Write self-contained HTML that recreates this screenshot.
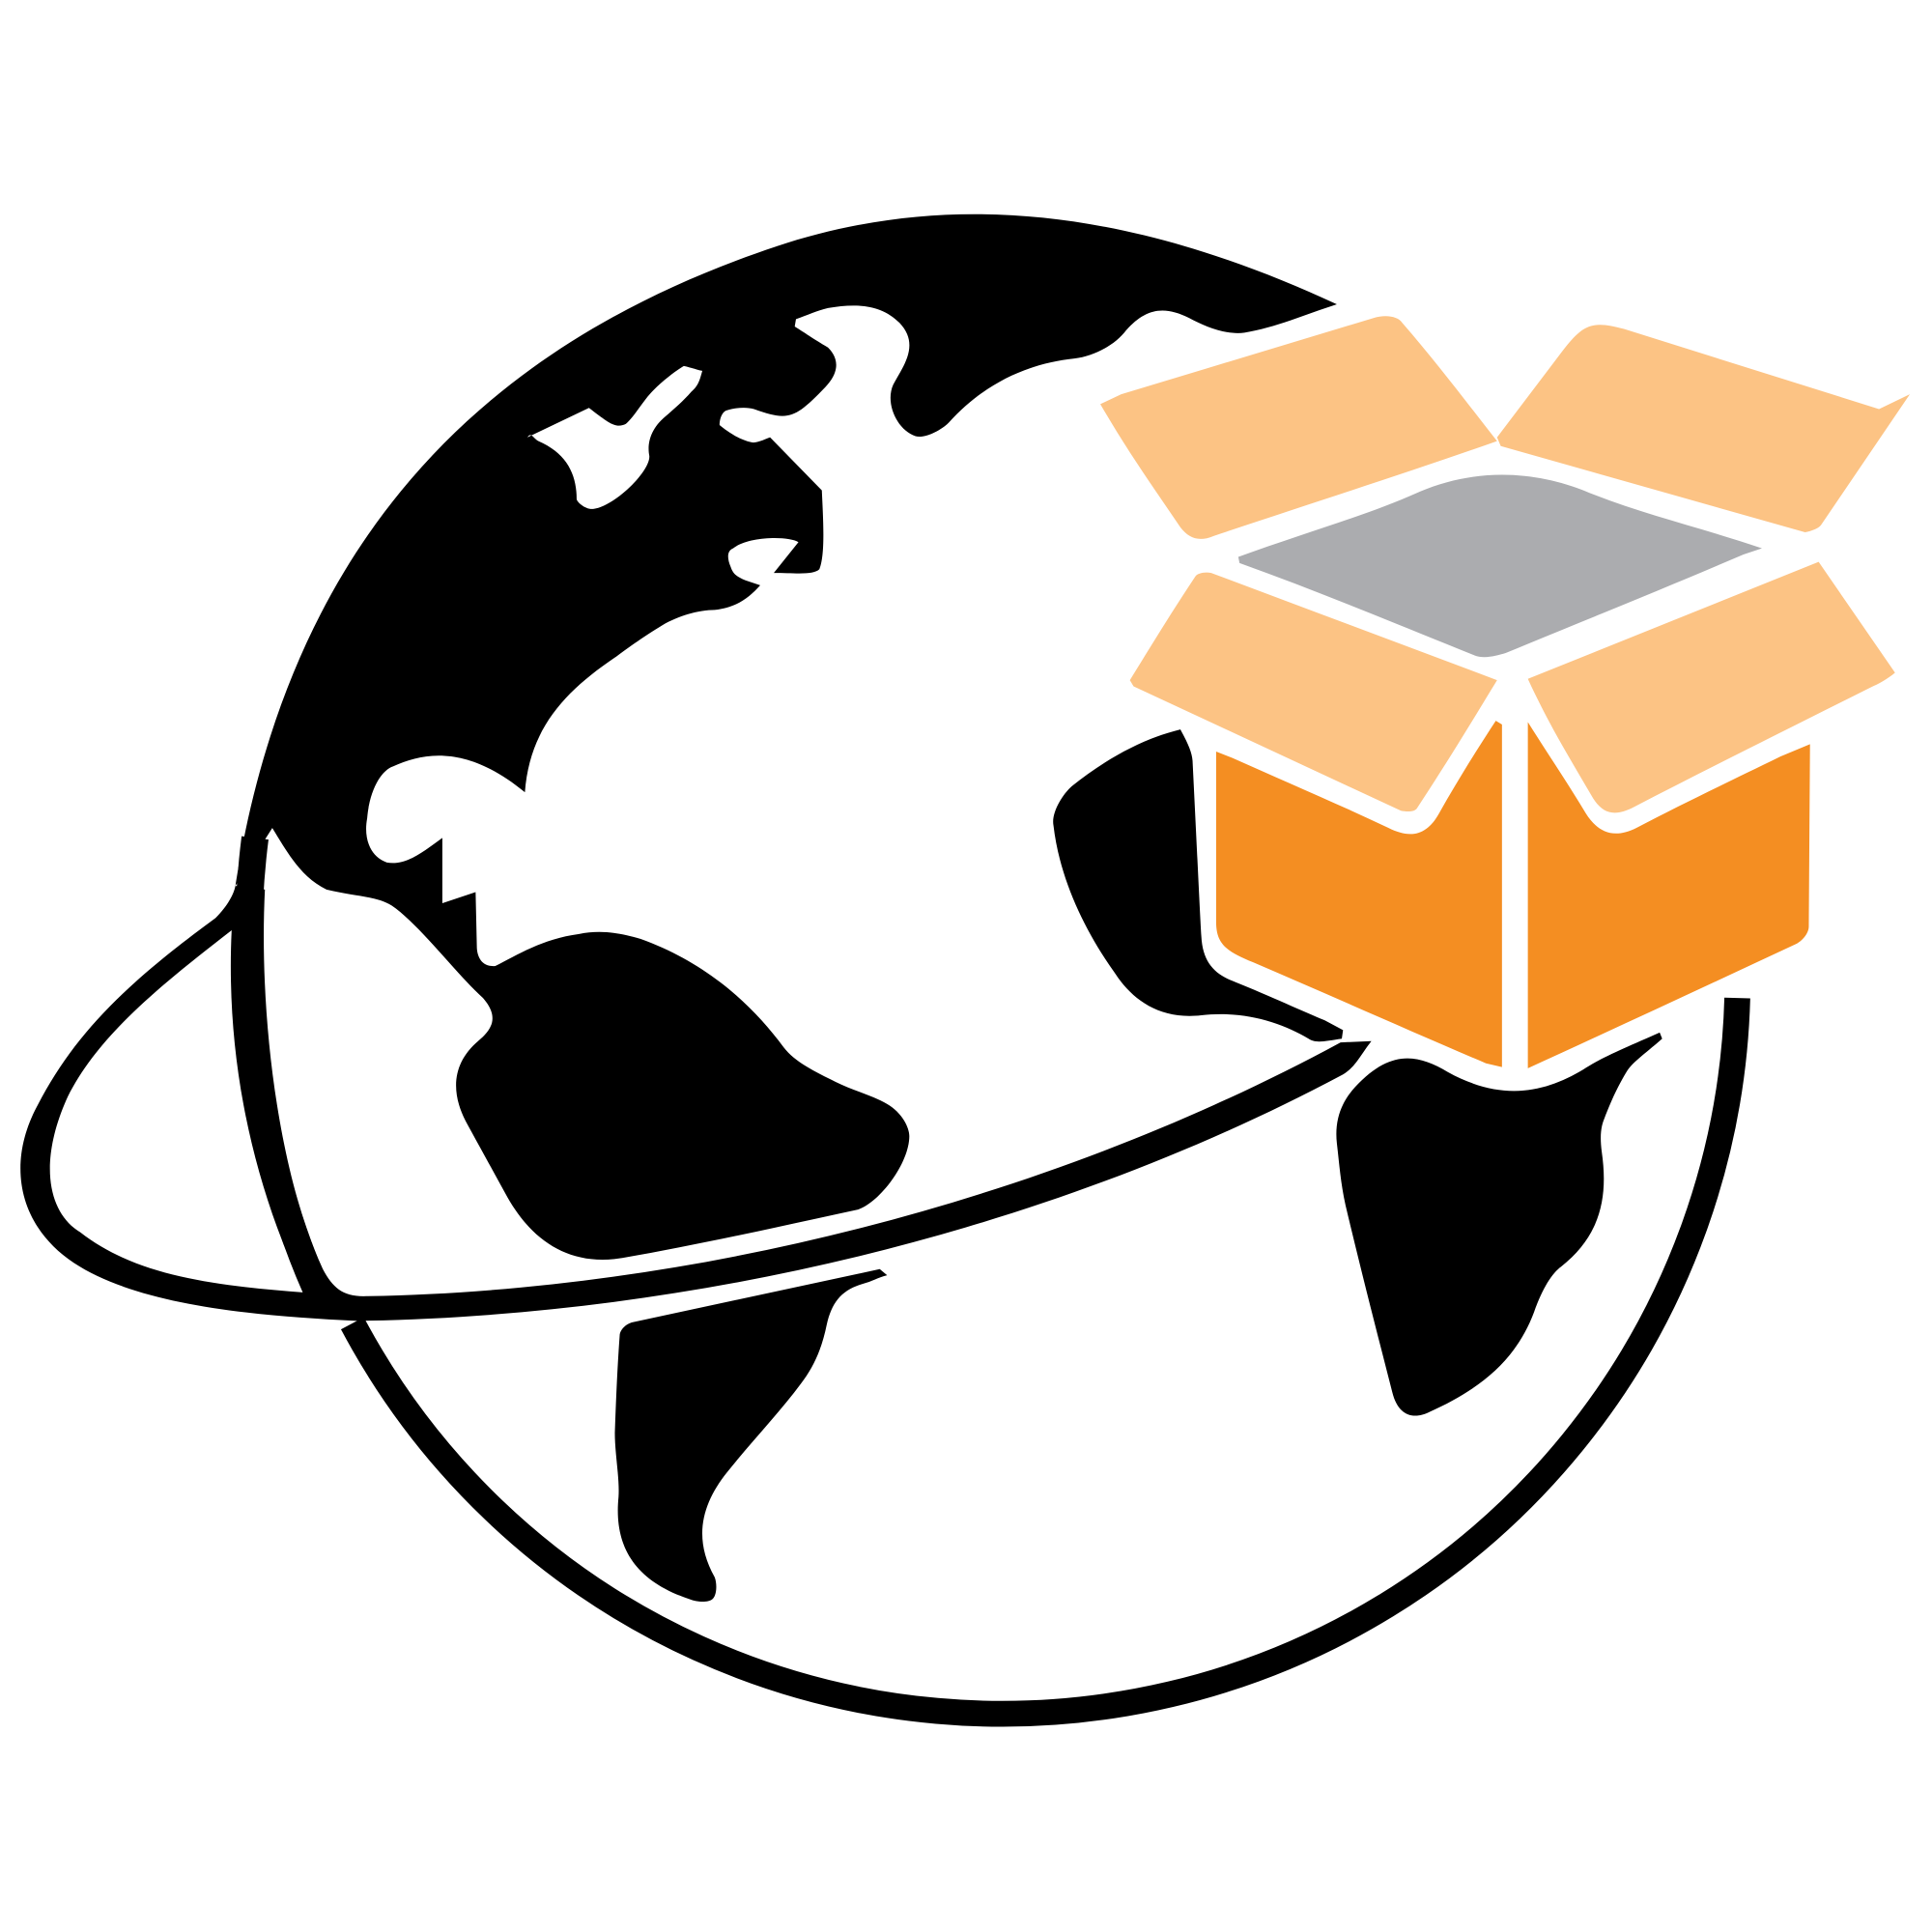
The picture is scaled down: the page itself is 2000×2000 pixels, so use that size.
<!DOCTYPE html>
<html><head><style>html,body{margin:0;padding:0;background:#fff}svg{display:block}</style></head>
<body>
<svg width="2000" height="2000" viewBox="0 0 1568 1568" xmlns="http://www.w3.org/2000/svg">
<rect width="1568" height="1568" fill="#fff"/>
<!-- big circle -->
<path d="M1410,810 A597,597 0 0 1 286,1074" fill="none" stroke="#000" stroke-width="21"/>
<!-- orbit -->
<path d="M1113,845 C1103,858 1100,866 1090,872 C850,1000 560,1068 290,1072 C200,1068 110,1058 60,1025 C15,995 5,945 30,898 C60,840 100,800 175,745 C185,735 190,725 191,719 L215,722 C210,820 225,950 262,1030 C270,1045 278,1052 295,1052 C560,1048 850,975 1088,846 Z" fill="#000"/>
<path d="M188,755 C130,800 80,840 55,890 C30,945 40,985 65,1000 C110,1035 170,1043 247,1049 C205,960 183,860 188,755 Z" fill="#fff"/>
<!-- globe left band -->
<path d="M207,680 C193,790 205,930 256,1045" fill="none" stroke="#000" stroke-width="22"/>
<!-- Americas/Europe cap -->
<path d="M1085,247 C930,175 780,150 630,200 C390,280 235,440 191,719 L221,672 C235,695 245,712 265,722 C290,728 305,727 318,735 C340,750 370,790 392,810 C405,825 400,835 388,845 C368,862 365,885 378,910 C390,932 400,950 412,972 C432,1007 462,1028 505,1021 C568,1010 635,995 695,982 C712,978 738,945 738,922 C738,915 732,903 720,896 C708,889 692,885 678,878 C662,870 645,862 636,850 C608,812 570,780 520,762 C500,756 485,755 470,758 C440,762 420,775 402,784 C390,785 387,775 387,768 L386,724 L359,733 L359,680 C345,690 330,703 314,700 C300,695 295,680 298,664 C300,640 310,625 319,622 C345,610 380,605 426,643 C430,590 460,560 500,533 C515,522 525,515 540,506 C555,498 570,495 580,495 C598,493 608,485 617,475 L605,471 C598,468 595,466 593,460 C590,453 590,447 595,445 C608,435 640,435 648,440 L628,465 C645,465 660,467 665,462 C670,450 668,420 667,398 L625,355 C622,356 614,360 610,359 C600,357 590,350 584,345 C584,340 586,334 590,333 C597,331 605,330 612,332 C640,342 645,340 670,314 C685,298 677,287 672,282 C660,275 653,270 645,265 L646,259 C655,256 663,252 672,250 C695,246 715,247 730,262 C747,280 733,297 725,312 C718,327 728,349 743,354 C750,356 763,350 770,343 C800,310 835,295 872,291 C888,289 905,280 914,268 C930,250 945,248 965,258 C978,265 995,272 1010,270 C1035,266 1060,255 1085,247 Z" fill="#000"/>
<path d="M428,355 L478,331 C495,344 500,348 508,344 C515,338 522,325 530,317 C540,307 550,300 555,297 C560,298 565,300 570,301 C568,308 567,313 561,318 C555,325 547,332 540,338 C528,348 525,360 527,370 C528,382 500,410 482,413 C475,414 468,407 468,405 C468,385 460,368 437,358 C433,356 431,350 428,355 Z" fill="#fff"/>
<!-- Africa -->
<path d="M958,592 C965,605 968,612 968,620 C972,700 974,745 975,760 C976,780 985,790 1000,796 C1030,808 1060,822 1075,828 L1090,836 L1089,843 C1075,845 1068,847 1062,843 C1040,830 1010,820 975,824 C940,828 918,810 905,790 C880,755 860,713 855,670 C853,660 862,645 870,638 C895,618 925,600 958,592 Z" fill="#000"/>
<!-- Australia -->
<path d="M1347,838 C1320,850 1300,858 1285,868 C1255,886 1220,895 1175,870 C1150,855 1128,852 1100,882 C1088,895 1083,910 1085,928 C1087,945 1088,960 1092,978 C1105,1033 1118,1083 1130,1130 C1135,1150 1148,1152 1160,1146 C1200,1128 1230,1105 1245,1065 C1252,1045 1260,1033 1267,1028 C1300,1002 1305,970 1300,935 C1298,920 1300,913 1302,908 C1308,892 1314,880 1320,870 C1325,862 1333,857 1349,843 Z" fill="#000"/>
<!-- bottom -->
<path d="M714,1030 L720,1035 C712,1037 708,1040 700,1042 C683,1047 675,1057 671,1075 C667,1095 660,1110 650,1123 C633,1146 610,1170 590,1195 C570,1220 562,1248 580,1280 C582,1285 582,1295 578,1298 C574,1301 565,1300 560,1298 C515,1283 498,1255 502,1215 C503,1200 499,1180 499,1163 C500,1135 501,1110 503,1083 C504,1078 509,1074 514,1073 Z" fill="#000"/>
<!-- box -->
<path d="M893,328 L910,320 L1115,258 C1125,255 1135,257 1138,262 C1165,293 1190,326 1215,358 C1150,381 1075,405 985,435 C973,440 965,437 958,428 C935,394 915,366 893,328 Z" fill="#FCC384"/>
<path d="M1215,355 L1268,285 C1285,263 1292,260 1318,267 L1525,332 L1550,320 L1478,426 C1476,429 1470,431 1465,432 L1218,362 Z" fill="#FCC384"/>
<path d="M1005,452 L1006,457 C1070,480 1130,505 1197,532 C1205,535 1215,532 1222,530 C1280,506 1340,482 1415,450 L1430,445 C1380,428 1335,418 1290,400 C1250,383 1200,378 1150,400 C1110,418 1060,432 1005,452 Z" fill="#ABACAF"/>
<path d="M917,552 C935,523 950,498 970,468 C972,465 978,464 983,465 L1215,552 C1198,580 1175,618 1150,656 C1148,659 1142,659 1137,658 L920,557 Z" fill="#FCC384"/>
<path d="M1240,551 L1476,456 L1538,546 C1532,551 1525,555 1518,558 C1450,592 1388,623 1326,655 C1312,662 1302,662 1293,648 C1275,617 1258,590 1240,551 Z" fill="#FCC384"/>
<path d="M987,610 L1000,615 C1040,633 1085,652 1127,672 C1145,681 1158,678 1168,660 C1181,637 1195,614 1214,585 L1219,588 L1219,866 L1206,863 C1145,837 1080,808 1017,781 C995,772 987,766 987,748 Z" fill="#F48E22"/>
<path d="M1240,586 C1255,610 1272,635 1287,660 C1297,676 1310,681 1328,672 C1368,651 1400,636 1445,614 L1469,604 L1468,752 C1468,758 1462,764 1458,766 C1385,800 1310,835 1240,867 Z" fill="#F48E22"/>
</svg>
</body></html>
